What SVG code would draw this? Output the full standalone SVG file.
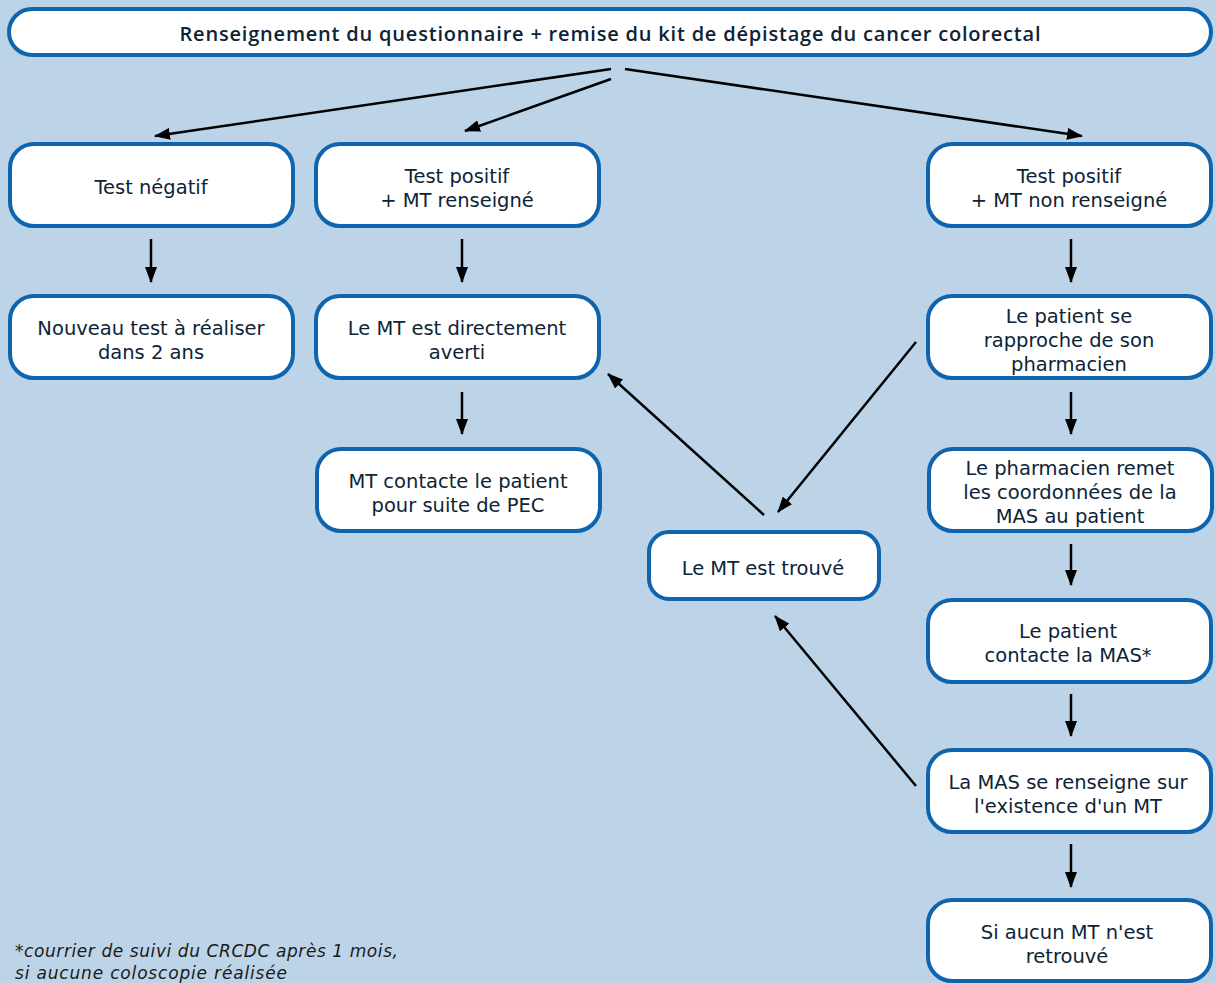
<svg xmlns="http://www.w3.org/2000/svg" width="1216" height="983" viewBox="0 0 1216 983">
<style>
.bg{fill:#bcd3e8}
.box{fill:#ffffff;stroke:#0f64ae;stroke-width:4}
.t{font-family:"DejaVu Sans","Open Sans",sans-serif;font-size:19.5px;fill:#0d2436;text-anchor:middle}
.title{font-family:"Open Sans","Noto Sans",sans-serif;font-size:20px;font-weight:600;fill:#0d2436;text-anchor:middle}
.note{font-family:"DejaVu Sans","Open Sans",sans-serif;font-size:17px;font-style:italic;fill:#1a1a1a}
.c{stroke:#000;stroke-width:2.5;fill:none;marker-end:url(#ah)}
</style>
<defs>
<marker id="ah" markerWidth="16" markerHeight="12" refX="15" refY="6" orient="auto" markerUnits="userSpaceOnUse">
<path d="M0,0 L16,6 L0,12 z" fill="#000"/>
</marker>
</defs>
<rect class="bg" x="0" y="0" width="1216" height="983"/>
<g id="connectors">
<line class="c" x1="611" y1="69" x2="155" y2="136"/>
<line class="c" x1="611" y1="79" x2="465" y2="131"/>
<line class="c" x1="625" y1="69" x2="1082" y2="136"/>
<line class="c" x1="151" y1="239" x2="151" y2="282"/>
<line class="c" x1="462" y1="239" x2="462" y2="282"/>
<line class="c" x1="1071" y1="239" x2="1071" y2="282"/>
<line class="c" x1="462" y1="392" x2="462" y2="434"/>
<line class="c" x1="1071" y1="392" x2="1071" y2="434"/>
<line class="c" x1="1071" y1="544" x2="1071" y2="585"/>
<line class="c" x1="1071" y1="694" x2="1071" y2="736"/>
<line class="c" x1="1071" y1="844" x2="1071" y2="887"/>
<line class="c" x1="916" y1="342" x2="778" y2="512"/>
<line class="c" x1="764" y1="515" x2="608" y2="374"/>
<line class="c" x1="916" y1="786" x2="775" y2="616"/>
</g>
<g id="n-top">
<rect class="box" x="9" y="9" width="1202" height="46" rx="23"/>
<text class="title" x="610" y="41" textLength="861" lengthAdjust="spacing">Renseignement du questionnaire + remise du kit de dépistage du cancer colorectal</text>
</g>
<g id="n-neg">
<rect class="box" x="10" y="144" width="283" height="82" rx="24"/>
<text class="t" x="151" y="194">Test négatif</text>
</g>
<g id="n-pos-mt">
<rect class="box" x="316" y="144" width="283" height="82" rx="24"/>
<text class="t" x="457" y="183">Test positif</text>
<text class="t" x="457" y="207">+ MT renseigné</text>
</g>
<g id="n-pos-nomt">
<rect class="box" x="928" y="144" width="283" height="82" rx="24"/>
<text class="t" x="1069" y="183">Test positif</text>
<text class="t" x="1069" y="207">+ MT non renseigné</text>
</g>
<g id="n-nouveau">
<rect class="box" x="10" y="296" width="283" height="82" rx="24"/>
<text class="t" x="151" y="335">Nouveau test à réaliser</text>
<text class="t" x="151" y="359">dans 2 ans</text>
</g>
<g id="n-averti">
<rect class="box" x="316" y="296" width="283" height="82" rx="24"/>
<text class="t" x="457" y="335">Le MT est directement</text>
<text class="t" x="457" y="359">averti</text>
</g>
<g id="n-rapproche">
<rect class="box" x="928" y="296" width="283" height="82" rx="24"/>
<text class="t" x="1069" y="323">Le patient se</text>
<text class="t" x="1069" y="347">rapproche de son</text>
<text class="t" x="1069" y="371">pharmacien</text>
</g>
<g id="n-contacte">
<rect class="box" x="317" y="449" width="283" height="82" rx="24"/>
<text class="t" x="458" y="488">MT contacte le patient</text>
<text class="t" x="458" y="512">pour suite de PEC</text>
</g>
<g id="n-remet">
<rect class="box" x="929" y="449" width="283" height="82" rx="24"/>
<text class="t" x="1070" y="475">Le pharmacien remet</text>
<text class="t" x="1070" y="499">les coordonnées de la</text>
<text class="t" x="1070" y="523">MAS au patient</text>
</g>
<g id="n-trouve">
<rect class="box" x="649" y="532" width="230" height="67" rx="20"/>
<text class="t" x="763" y="575">Le MT est trouvé</text>
</g>
<g id="n-mas">
<rect class="box" x="928" y="600" width="283" height="82" rx="24"/>
<text class="t" x="1068" y="638">Le patient</text>
<text class="t" x="1068" y="662">contacte la MAS*</text>
</g>
<g id="n-renseigne">
<rect class="box" x="928" y="750" width="283" height="82" rx="24"/>
<text class="t" x="1068" y="789">La MAS se renseigne sur</text>
<text class="t" x="1068" y="813">l'existence d'un MT</text>
</g>
<g id="n-aucun">
<rect class="box" x="928" y="900" width="283" height="81" rx="24"/>
<text class="t" x="1067" y="939">Si aucun MT n'est</text>
<text class="t" x="1067" y="963">retrouvé</text>
</g>
<g id="footnote">
<text class="note" x="15" y="957" textLength="383" lengthAdjust="spacing">*courrier de suivi du CRCDC après 1 mois,</text>
<text class="note" x="15" y="979" textLength="272" lengthAdjust="spacing">si aucune coloscopie réalisée</text>
</g>
</svg>
